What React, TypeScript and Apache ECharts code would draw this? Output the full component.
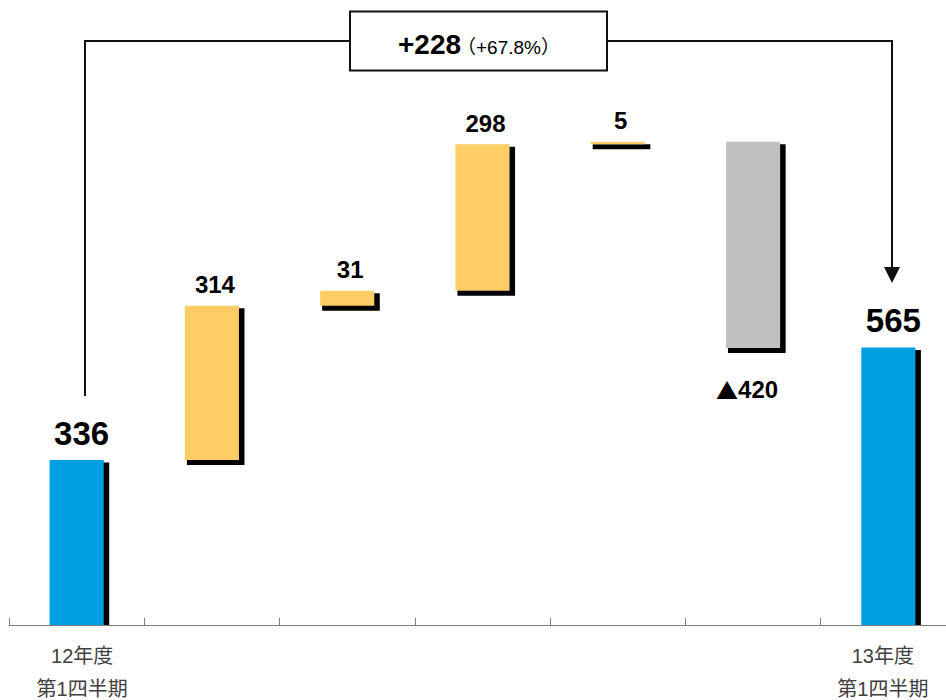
import React, { useEffect, useRef } from 'react';
import * as echarts from 'echarts';

const categories = ['12年度\n第1四半期', '', '', '', '', '', '13年度\n第1四半期'];
const startValue = 336;
const endValue = 565;
const changes = [314, 31, 298, 5, -420];
const changeLabels = ['314', '31', '298', '5', '▲420'];
const diffLabel = '+228';
const diffRate = '（+67.8%）';

const FONT = "'Liberation Sans', 'Noto Sans CJK JP', sans-serif";
const CJK = "'Noto Sans CJK JP', sans-serif";
const COLORS: Record<string, string> = { total: '#009FE3', up: '#FFCC66', down: '#C0C0C0' };

type Item = { idx: number; lo: number; hi: number; kind: string; label: string };

function buildItems(): Item[] {
  const items: Item[] = [{ idx: 0, lo: 0, hi: startValue, kind: 'total', label: String(startValue) }];
  let cur = startValue;
  changes.forEach((c, i) => {
    const next = cur + c;
    items.push({
      idx: i + 1,
      lo: Math.min(cur, next),
      hi: Math.max(cur, next),
      kind: c >= 0 ? 'up' : 'down',
      label: changeLabels[i],
    });
    cur = next;
  });
  items.push({ idx: categories.length - 1, lo: 0, hi: endValue, kind: 'total', label: String(endValue) });
  return items;
}

function richLabel(s: string): string {
  if (s.startsWith('▲')) return `{t|▲}{n|${s.slice(1)}}`;
  return `{n|${s}}`;
}

export default function App() {
  const ref = useRef<HTMLDivElement>(null);
  useEffect(() => {
    if (!ref.current) return;
    const chart = echarts.init(ref.current, null, { renderer: 'svg' });
    const items = buildItems();
    const lineColor = '#111111';
    chart.setOption({
      animation: false,
      grid: { left: 9, right: 4, top: 134, bottom: 75 },
      xAxis: {
        type: 'category',
        data: categories,
        axisLine: { lineStyle: { color: '#808080', width: 1 } },
        axisTick: { show: true, inside: true, length: 7, interval: 0, lineStyle: { color: '#808080' } },
        axisLabel: {
          interval: 0,
          margin: 14,
          formatter: (v: string, i: number) => {
            if (!v) return '';
            const key = i === 0 ? 'l' : 'r';
            return v
              .split('\n')
              .map((s) => `{${key}|${s}}`)
              .join('\n');
          },
          rich: {
            l: { fontSize: 20, color: '#404040', lineHeight: 33, fontFamily: FONT, padding: [0, 0, 0, 11] },
            r: { fontSize: 20, color: '#404040', lineHeight: 33, fontFamily: FONT, padding: [0, 11, 0, 0] },
          },
        },
      },
      yAxis: { type: 'value', min: 0, max: 1000, show: false, splitLine: { show: false } },
      series: [
        {
          type: 'custom',
          data: items.map((it) => [it.idx, it.lo, it.hi]),
          encode: { x: 0, y: [1, 2] },
          clip: false,
          renderItem: (params: any, api: any) => {
            const it = items[params.dataIndex];
            const top = api.coord([it.idx, it.hi]);
            const bot = api.coord([it.idx, it.lo]);
            const band = api.size([1, 0])[0];
            const w = band * 0.4;
            const cx = top[0];
            const x = cx - w / 2;
            const yT = top[1];
            const yB = bot[1];
            const h = Math.max(yB - yT, 1.5);
            const axisY = api.coord([it.idx, 0])[1];
            const shTop = yT + 2.5;
            const shBottom = Math.min(yB + 5, axisY);
            const big = it.kind === 'total';
            const fontSize = big ? 33 : 24;
            let lx = cx + 3;
            let ly = yT - 9;
            let va = 'bottom';
            if (big) {
              lx = cx + 5;
              ly = yT - 10.5;
            }
            if (it.kind === 'down') {
              lx = cx - 6;
              ly = yB + 29;
              va = 'top';
            }
            return {
              type: 'group',
              children: [
                {
                  type: 'rect',
                  shape: { x: x + 2, y: shTop, width: w + 3.5, height: Math.max(shBottom - shTop, 0) },
                  style: { fill: '#000000' },
                },
                {
                  type: 'rect',
                  shape: { x, y: yT, width: w, height: h },
                  style: { fill: COLORS[it.kind] },
                },
                {
                  type: 'text',
                  style: {
                    text: richLabel(it.label),
                    x: lx,
                    y: ly,
                    align: 'center',
                    verticalAlign: va,
                    textAlign: 'center',
                    textVerticalAlign: va,
                    fill: '#000000',
                    rich: {
                      n: { fontSize, fontWeight: 'bold', fontFamily: FONT, fill: '#000000', lineHeight: fontSize },
                      t: { fontSize: 22, fontFamily: CJK, fill: '#000000', lineHeight: fontSize },
                    },
                  },
                },
              ],
            };
          },
        },
      ],
      graphic: [
        {
          type: 'polyline',
          shape: { points: [[85, 396], [85, 41], [350, 41]] },
          style: { stroke: lineColor, lineWidth: 2, fill: null },
        },
        {
          type: 'polyline',
          shape: { points: [[607, 41], [892, 41], [892, 269]] },
          style: { stroke: lineColor, lineWidth: 2, fill: null },
        },
        {
          type: 'polygon',
          shape: { points: [[884, 267], [900, 267], [892, 283]] },
          style: { fill: lineColor },
        },
        {
          type: 'rect',
          shape: { x: 350, y: 11.5, width: 257, height: 59 },
          style: { fill: '#ffffff', stroke: lineColor, lineWidth: 2 },
        },
        {
          type: 'text',
          x: 398,
          y: 44,
          style: {
            text: diffLabel,
            fontSize: 28,
            fontWeight: 'bold',
            fontFamily: FONT,
            fill: '#000000',
            align: 'left',
            verticalAlign: 'middle',
            textAlign: 'left',
            textVerticalAlign: 'middle',
          },
        },
        {
          type: 'text',
          x: 457,
          y: 47,
          style: {
            text: diffRate,
            fontSize: 19,
            fontFamily: FONT,
            fill: '#000000',
            align: 'left',
            verticalAlign: 'middle',
            textAlign: 'left',
            textVerticalAlign: 'middle',
          },
        },
      ],
    });
    return () => chart.dispose();
  }, []);
  return (
    <div
      ref={ref}
      style={{ position: 'fixed', left: 0, top: 0, width: 960, height: 700, background: '#ffffff' }}
    />
  );
}
